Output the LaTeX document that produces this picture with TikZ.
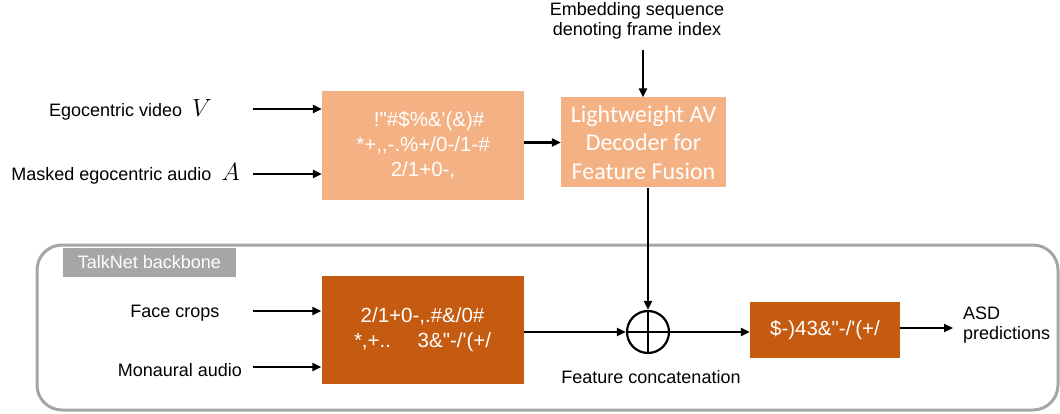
\documentclass[tikz,border=0pt]{standalone}
\usepackage{fontspec}
\setmainfont{Liberation Sans}
\newfontfamily\garble{Liberation Sans}
\newfontfamily\carlito{Carlito}
\usetikzlibrary{arrows.meta}
\definecolor{lightorange}{HTML}{F4B183}
\definecolor{darkorange}{HTML}{C55A11}
\definecolor{framegray}{HTML}{A6A6A6}
\newcommand{\bigmath}[1]{{\fontsize{23}{23}\selectfont$#1$}}
\begin{document}
\begin{tikzpicture}[x=1pt,y=-1pt,
    font=\fontsize{18}{20}\selectfont,
    arr/.style={line width=2.2pt,-{Triangle[length=9pt,width=8pt]}},
    lightbox/.style={fill=lightorange,inner sep=0pt,text=white,align=center},
    darkbox/.style={fill=darkorange,inner sep=0pt,text=white,align=center},
    lbl/.style={inner sep=0pt,align=center}]
\useasboundingbox (0,0) rectangle (1060,414);
% backbone frame
\draw[framegray,line width=3pt,rounded corners=25pt] (37,245) rectangle (1058,410);
\node[fill=framegray,text=white,minimum width=173pt,minimum height=29pt,inner sep=0pt] (backbone) at (149.5,262.5) {TalkNet backbone};
% upper branch
\node[lightbox,minimum width=202pt,minimum height=109pt,font=\garble\fontsize{20.5}{25}\selectfont] (encoder) at (423,145.5)
    {\hspace{0.6em}!"\#\$\%\&'(\&)\#\\*+,,-.\%+/0-/1-\#\\2/1+0-,};
\node[lightbox,minimum width=165pt,minimum height=90pt,font=\carlito\fontsize{24}{28.5}\selectfont] (decoder) at (643.5,142.5)
    {Lightweight AV\\Decoder for\\Feature Fusion};
\node[lbl] (embed) at (637,21) {Embedding sequence\\denoting frame index};
\coordinate (embedtop) at (643,50);
\node[lbl,anchor=east] (video) at (212,110) {Egocentric video\ \ \bigmath{V}};
\node[lbl,anchor=east] (audio) at (240,174) {Masked egocentric audio\ \ \bigmath{A}};
\coordinate (videoend) at (253,109);
\coordinate (audioend) at (253,174);
% lower branch
\node[darkbox,minimum width=202pt,minimum height=108pt,font=\garble\fontsize{20.5}{25}\selectfont] (talknet) at (422.5,330)
    {2/1+0-,.\#\&/0\#\\*,+..\hspace{1.3em}3\&"-/'(+/};
\node[draw,circle,line width=2.2pt,minimum size=42pt,inner sep=0pt] (concat) at (648,332) {};
\node[lbl] (concatlabel) at (651,377) {Feature concatenation};
\node[darkbox,minimum width=150pt,minimum height=56pt,font=\garble\fontsize{20.5}{22}\selectfont] (classifier) at (825,330) {\$-)43\&"-/'(+/};
\node[lbl,anchor=west,align=left] (asd) at (963,325) {ASD\\predictions};
\node[lbl] (face) at (175,313) {Face crops};
\node[lbl] (mono) at (180,370) {Monaural audio};
\coordinate (faceend) at (253,311);
\coordinate (monoend) at (253,367);
% connectors
\draw[arr] (videoend) -- (videoend -| encoder.west);
\draw[arr] (audioend) -- (audioend -| encoder.west);
\draw[arr] (encoder.east |- decoder) -- (decoder.west);
\draw[arr] (embedtop) -- (embedtop |- decoder.north);
\draw[arr] (decoder.south -| concat) -- (concat.north);
\draw[arr] (faceend) -- (faceend -| talknet.west);
\draw[arr] (monoend) -- (monoend -| talknet.west);
\draw[arr] (talknet.east |- concat) -- (concat.west);
\draw[arr] (concat.east) -- (concat.east -| classifier.west);
\draw[line width=2.2pt] (concat.north) -- (concat.south) (concat.west) -- (concat.east);
\draw[arr] (classifier.east |- 0,328) -- (953,328);
\end{tikzpicture}
\end{document}
